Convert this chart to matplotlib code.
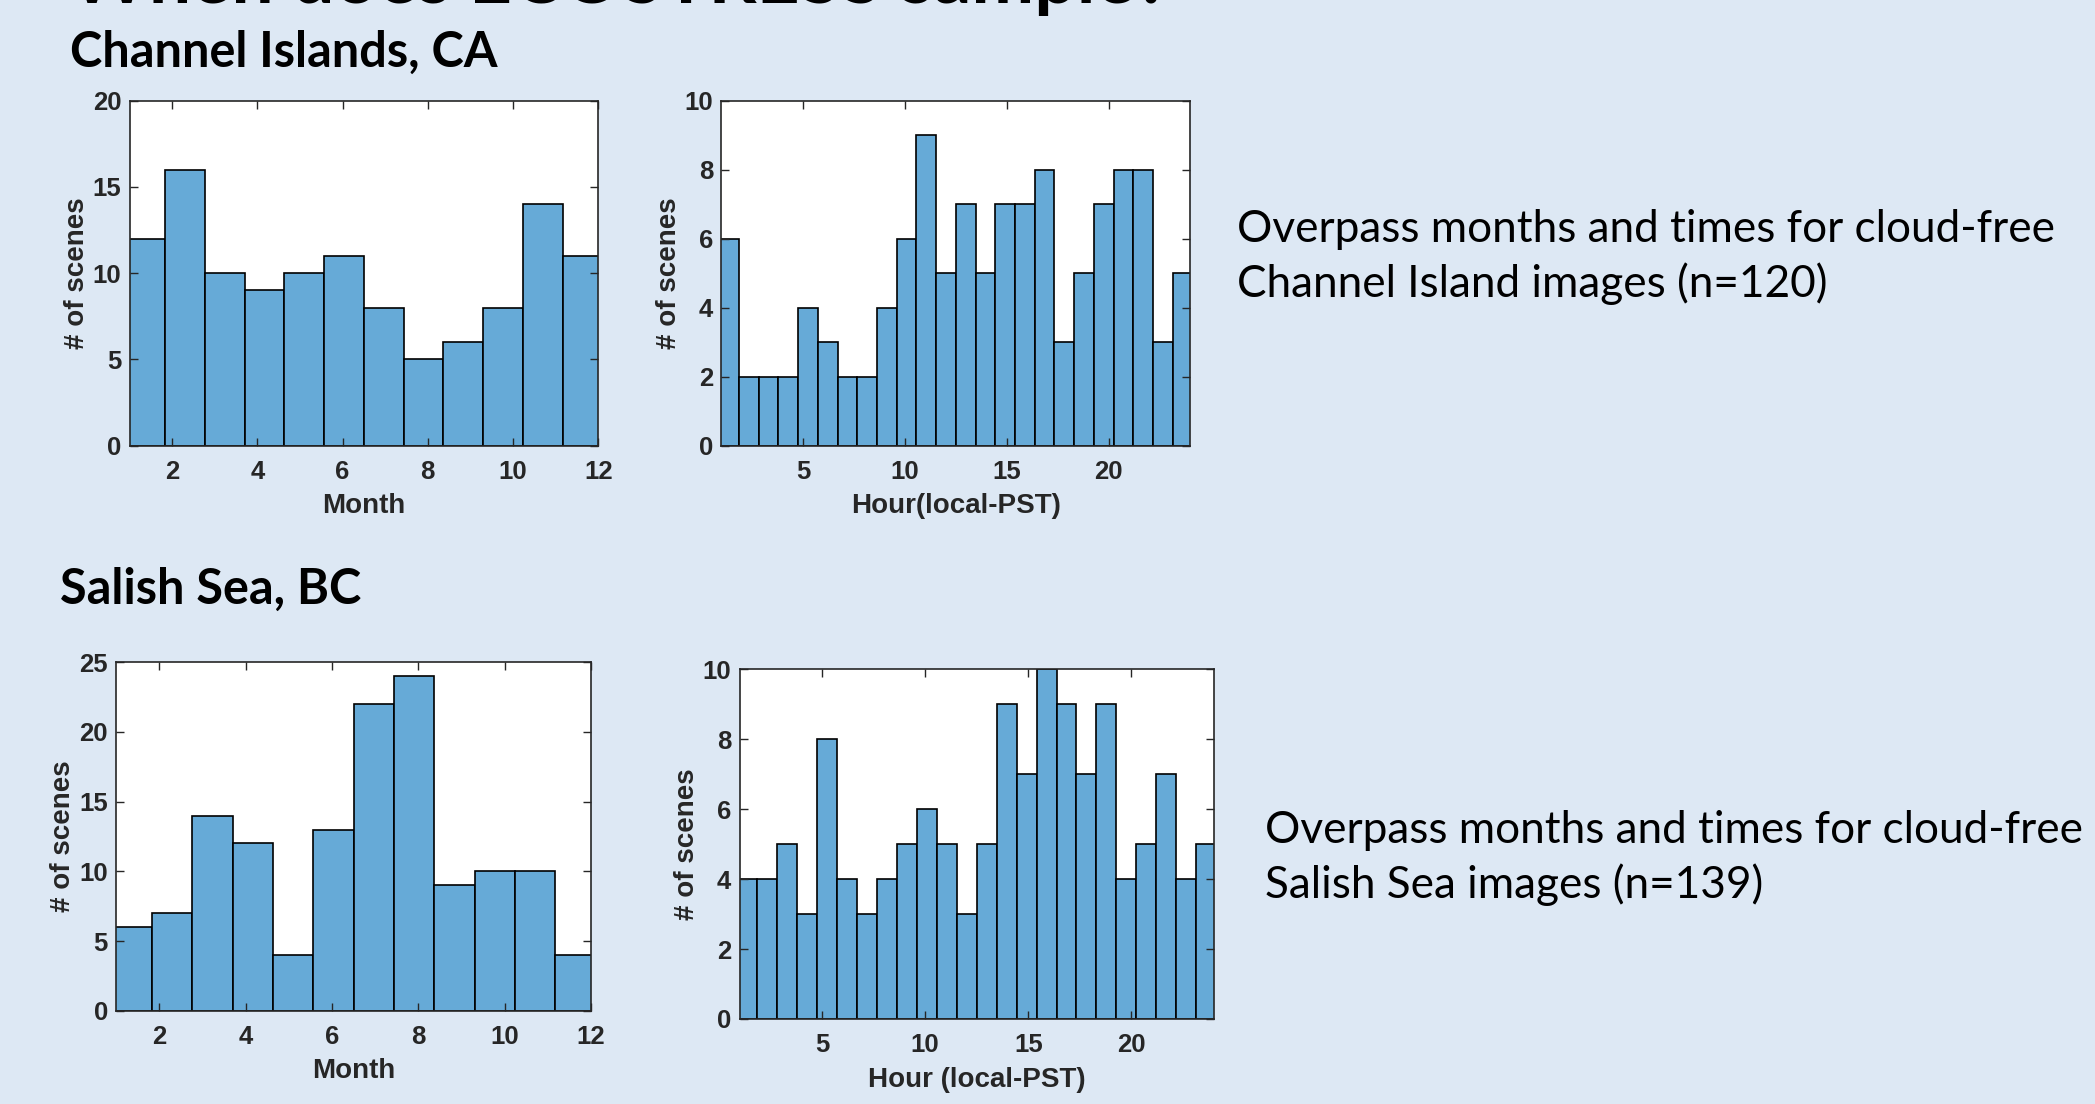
import numpy as np
import matplotlib
matplotlib.use("Agg")
import matplotlib.pyplot as plt

# cloud-free scenes per month / hour
months = list(range(1, 13))
hours = list(range(1, 25))

ci_month_counts = [12, 16, 10, 9, 10, 11, 8, 5, 6, 8, 14, 11]
ci_hour_counts = [6, 2, 2, 2, 4, 3, 2, 2, 4, 6, 9, 5, 7, 5, 7, 7, 8, 3, 5, 7, 8, 8, 3, 5]

ss_month_counts = [6, 7, 14, 12, 4, 13, 22, 24, 9, 10, 10, 4]
ss_hour_counts = [4, 4, 5, 3, 8, 4, 3, 4, 5, 6, 5, 3, 5, 9, 7, 10, 9, 7, 9, 4, 5, 7, 4, 5]

month_ticks = [2, 4, 6, 8, 10, 12]
hour_ticks = [5, 10, 15, 20]

W, H = 2095, 1104
BG = "#dde8f4"
BAR = "#66aad7"
AXC = "#262626"

fig = plt.figure(figsize=(W / 100, H / 100), dpi=100)
fig.patch.set_facecolor(BG)


def px_axes(l, t, r, b):
    return fig.add_axes([l / W, 1 - b / H, (r - l) / W, (b - t) / H])


def hist_panel(ax, values, counts, xlim, ylim, xticks, yticks, xlabel):
    # matlab-like bins: n bins spread slightly beyond the data range
    n = len(values)
    edges = np.linspace(values[0] - 0.1, values[-1] + 0.1, n + 1)
    ax.hist(values, bins=edges, weights=counts, color=BAR, edgecolor="black",
            linewidth=1.2)
    ax.set_xlim(*xlim)
    ax.set_ylim(*ylim)
    ax.set_xticks(xticks)
    ax.set_yticks(yticks)
    ax.set_facecolor("white")
    for s in ax.spines.values():
        s.set_color(AXC)
        s.set_linewidth(1.2)
    ax.tick_params(direction="in", length=6, width=1, color=AXC,
                   top=True, right=True, labelcolor=AXC, labelsize=18.5)
    ax.tick_params(axis="x", pad=10)
    ax.tick_params(axis="y", pad=6)
    for lab in ax.get_xticklabels() + ax.get_yticklabels():
        lab.set_fontweight("bold")
        lab.set_family("Liberation Sans")
    ax.set_xlabel(xlabel, fontsize=20, fontweight="bold", color=AXC,
                  family="Liberation Sans", labelpad=7)
    ax.set_ylabel("# of scenes", fontsize=20, fontweight="bold", color=AXC,
                  family="Liberation Sans", labelpad=2)


ax1 = px_axes(129.5, 100.7, 598.2, 445.7)
hist_panel(ax1, months, ci_month_counts, (1, 12), (0, 20), month_ticks,
           [0, 5, 10, 15, 20], "Month")

ax2 = px_axes(721.4, 100.7, 1190.4, 445.7)
hist_panel(ax2, hours, ci_hour_counts, (1, 24), (0, 10), hour_ticks,
           [0, 2, 4, 6, 8, 10], "Hour(local-PST)")

ax3 = px_axes(116.2, 662.3, 591.1, 1010.7)
hist_panel(ax3, months, ss_month_counts, (1, 12), (0, 25), month_ticks,
           [0, 5, 10, 15, 20, 25], "Month")

ax4 = px_axes(739.5, 669.3, 1214, 1019)
hist_panel(ax4, hours, ss_hour_counts, (1, 24), (0, 10), hour_ticks,
           [0, 2, 4, 6, 8, 10], "Hour (local-PST)")

# slide text (title runs off the top edge as in the slide)
fig.text(70 / W, 1 - 3 / H, "When does ECOSTRESS sample?", fontsize=54,
         fontweight="bold", family="Lato", va="baseline", ha="left")
fig.text(70 / W, 1 - 52 / H, "Channel Islands, CA", fontsize=35,
         fontweight="bold", family="Lato", va="center", ha="left")
fig.text(60 / W, 1 - 589 / H, "Salish Sea, BC", fontsize=35,
         fontweight="bold", family="Lato", va="center", ha="left")
fig.text(1237 / W, 1 - 257 / H,
         "Overpass months and times for cloud-free\nChannel Island images (n=120)",
         fontsize=31.8, family="Lato", va="center", ha="left", linespacing=1.37)
fig.text(1265 / W, 1 - 858 / H,
         "Overpass months and times for cloud-free\nSalish Sea images (n=139)",
         fontsize=31.8, family="Lato", va="center", ha="left", linespacing=1.37)

fig.savefig("out.png", dpi=100, facecolor=BG)
